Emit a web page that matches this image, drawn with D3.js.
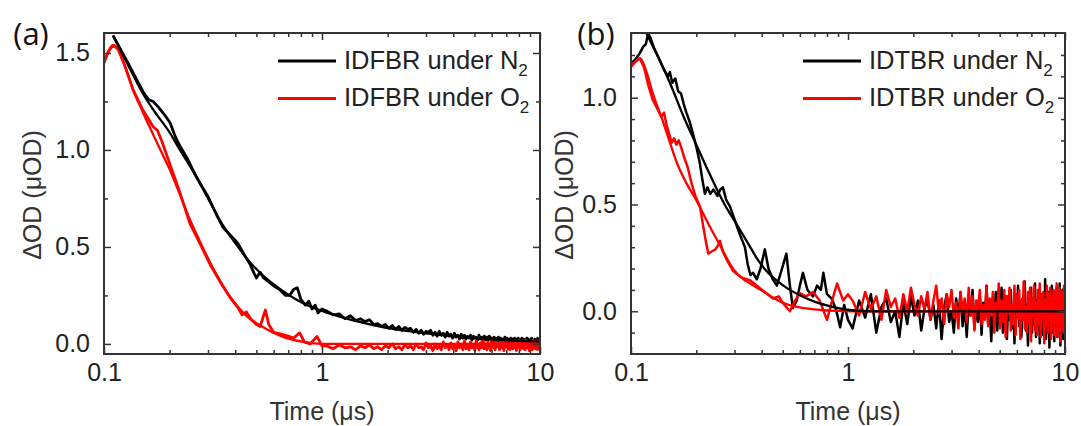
<!DOCTYPE html>
<html>
<head>
<meta charset="utf-8">
<script src="https://cdn.jsdelivr.net/npm/d3@7"></script>
<style>
  body { margin: 0; background: #fff; }
  text { font-family: "Liberation Sans", Arial, sans-serif; }
</style>
</head>
<body>
<svg id="chart" width="1081" height="426"></svg>
<script>
// ---- data (time in µs, ΔOD in µOD) ----
const xTicks = [0.1, 1, 10];
const xMinorTicks = [0.2, 0.3, 0.4, 0.5, 0.6, 0.7, 0.8, 0.9, 2, 3, 4, 5, 6, 7, 8, 9];
const yTicksA = [0, 0.5, 1.0, 1.5];
const yMinorA = [0.25, 0.75, 1.25];
const yTicksB = [0, 0.5, 1.0];
const yMinorB = [-0.1, 0.1, 0.2, 0.3, 0.4, 0.6, 0.7, 0.8, 0.9, 1.1, 1.2];

const legendA = ["IDFBR under ", "IDFBR under "];
const legendB = ["IDTBR under ", "IDTBR under "];
const legendSub = [["N", "2"], ["O", "2"]];

// sampling grid of the long-time tails
const tailStart = 1.05, tailStep = 0.075;

// panel (a) IDFBR
const fbN2Early = [[0.11,1.59],[0.13,1.44],[0.151,1.3],[0.16,1.26],[0.168,1.25],[0.178,1.22],[0.19,1.18],[0.201,1.14],
  [0.212,1.07],[0.223,1.02],[0.24,0.96],[0.26,0.88],[0.275,0.83],[0.3,0.76],[0.33,0.66],[0.352,0.6],[0.38,0.56],
  [0.41,0.52],[0.44,0.46],[0.468,0.41],[0.49,0.36],[0.5,0.34],[0.52,0.37],[0.54,0.34],[0.57,0.32],[0.6,0.3],
  [0.64,0.28],[0.68,0.25],[0.71,0.25],[0.74,0.28],[0.77,0.29],[0.8,0.23],[0.84,0.2],[0.87,0.22],[0.9,0.18],
  [0.93,0.2],[0.96,0.16],[1.0,0.18]];
const fbN2Tail = [0.17,0.15,0.155,0.13,0.145,0.12,0.13,0.115,0.125,0.10,
  0.105,0.09,0.1,0.08,0.095,0.075,0.09,0.07,0.085,0.075,
  0.08,0.06,0.075,0.055,0.07,0.05,0.065,0.06,0.07,0.045,
  0.06,0.04,0.065,0.045,0.055,0.035,0.06,0.04,0.05,0.03,
  0.055,0.035,0.045,0.025,0.05,0.03,0.045,0.025,0.04,0.03,
  0.045,0.02,0.04,0.03,0.035,0.02,0.045,0.025,0.035,0.015,
  0.04,0.02,0.035,0.015,0.04,0.025,0.03,0.015,0.035,0.02,
  0.03,0.01,0.035,0.015,0.03,0.02,0.025,0.01,0.035,0.015,
  0.03,0.01,0.025,0.005,0.03,0.015,0.025,0.01,0.03,0.005,
  0.025,0.01,0.03,0.005,0.02,0.015,0.03,0.0,0.025,0.01,
  0.02,0.005,0.03,0.01,0.025,0.0,0.02,0.015,0.03,0.005,
  0.02,0.01,0.025,0.0,0.02,0.01,0.03,0.005,0.02,0.015,0.01];
const fbN2Fit = [[0.11,1.59],[0.13,1.43],[0.151,1.29],[0.17,1.2],[0.2,1.09],[0.223,1.0],[0.25,0.91],[0.275,0.83],
  [0.31,0.72],[0.352,0.61],[0.4,0.52],[0.468,0.42],[0.54,0.35],[0.62,0.295],[0.71,0.25],[0.82,0.21],[1.0,0.17],
  [1.25,0.135],[1.6,0.105],[2.05,0.08],[3,0.055],[4.15,0.038],[6,0.024],[8,0.016],[10,0.012]];

const fbO2Early = [[0.1,1.45],[0.105,1.51],[0.11,1.54],[0.116,1.52],[0.125,1.43],[0.136,1.31],[0.15,1.21],[0.16,1.16],
  [0.168,1.12],[0.176,1.1],[0.185,1.04],[0.2,0.93],[0.223,0.78],[0.248,0.62],[0.275,0.52],[0.31,0.4],[0.35,0.3],
  [0.378,0.24],[0.41,0.19],[0.43,0.15],[0.45,0.165],[0.47,0.13],[0.5,0.1],[0.52,0.09],[0.55,0.175],[0.57,0.1],
  [0.6,0.06],[0.65,0.05],[0.7,0.04],[0.74,0.03],[0.79,0.057],[0.83,0.01],[0.88,0.0],[0.95,0.038],[1.0,-0.01]];
const fbO2Tail = [-0.01,-0.025,-0.005,-0.02,-0.015,-0.03,-0.01,-0.02,-0.005,-0.025,
  -0.015,-0.03,-0.01,-0.02,0.0,-0.025,-0.015,-0.03,-0.005,-0.02,
  -0.01,-0.03,0.0,-0.02,-0.015,-0.03,0.005,-0.02,-0.01,-0.035,
  0.0,-0.025,-0.01,-0.03,0.01,-0.02,-0.005,-0.03,0.005,-0.025,
  -0.01,-0.035,0.01,-0.02,0.0,-0.03,0.015,-0.025,-0.005,-0.03,
  0.01,-0.02,0.0,-0.035,0.015,-0.015,-0.03,0.005,-0.02,0.02,
  -0.025,0.0,-0.03,0.01,-0.015,-0.035,0.015,-0.02,0.005,-0.03,
  0.02,-0.015,-0.005,-0.03,0.015,-0.02,0.01,-0.035,0.005,-0.015,
  0.02,-0.025,0.0,-0.03,0.015,-0.01,-0.025,0.02,-0.02,0.005,
  -0.035,0.01,-0.015,0.02,-0.03,0.0,-0.02,0.015,-0.025,0.005,
  -0.03,0.02,-0.01,-0.02,0.01,-0.035,0.015,-0.015,0.0,-0.03,
  0.02,-0.02,0.005,-0.025,0.015,-0.01,-0.03,0.01,-0.02,0.02,-0.01];
const fbO2Fit = [[0.1,1.45],[0.105,1.51],[0.11,1.54],[0.116,1.52],[0.125,1.43],[0.136,1.31],[0.15,1.2],[0.168,1.08],
  [0.185,0.98],[0.2,0.9],[0.223,0.77],[0.248,0.64],[0.275,0.53],[0.32,0.38],[0.378,0.245],[0.44,0.155],
  [0.54,0.085],[0.65,0.04],[0.82,0.01],[1.0,0.0],[10,0.0]];

// panel (b) IDTBR
const tbN2Early = [[0.1,1.16],[0.105,1.18],[0.11,1.21],[0.114,1.24],[0.117,1.25],[0.12,1.3],[0.123,1.28],[0.128,1.23],
  [0.135,1.18],[0.142,1.13],[0.148,1.1],[0.151,1.12],[0.155,1.07],[0.16,1.09],[0.165,1.03],[0.17,1.02],[0.175,0.97],
  [0.18,0.93],[0.186,0.89],[0.192,0.84],[0.2,0.77],[0.207,0.7],[0.213,0.62],[0.219,0.55],[0.225,0.58],[0.232,0.55],
  [0.24,0.57],[0.25,0.54],[0.258,0.57],[0.265,0.58],[0.275,0.52],[0.286,0.49],[0.3,0.43],[0.312,0.38],[0.323,0.34],
  [0.335,0.3],[0.345,0.22],[0.355,0.17],[0.365,0.18],[0.38,0.15],[0.395,0.2],[0.414,0.29],[0.43,0.2],[0.45,0.15],
  [0.47,0.12],[0.49,0.18],[0.52,0.27],[0.54,0.12],[0.557,0.015],[0.58,0.05],[0.6,0.12],[0.62,0.18],[0.65,0.1],
  [0.69,0.07],[0.72,0.12],[0.75,0.1],[0.77,0.18],[0.8,0.08],[0.84,0.06],[0.88,0.01],[0.92,-0.075],[0.96,0.03],[1.0,-0.04]];
const tbN2Tail = [-0.08,0.05,-0.03,0.08,-0.1,0.02,0.06,-0.05,0.0,-0.12,
  0.04,-0.06,0.07,-0.02,0.05,-0.09,0.01,0.06,-0.04,0.03,
  -0.08,0.05,-0.13,0.02,0.08,-0.05,0.0,-0.1,0.06,-0.03,
  0.09,-0.07,0.03,-0.12,0.05,-0.02,0.1,-0.08,0.02,-0.05,
  0.07,-0.11,0.04,-0.03,0.12,-0.06,0.01,-0.14,0.06,-0.02,
  0.09,-0.09,0.03,-0.05,0.11,-0.1,0.0,0.07,-0.13,0.05,
  -0.04,0.1,-0.08,0.02,-0.15,0.08,-0.03,0.12,-0.07,0.04,
  -0.12,0.06,-0.01,0.14,-0.09,0.03,-0.16,0.07,-0.04,0.11,
  -0.1,0.02,-0.06,0.13,-0.12,0.05,-0.02,0.1,-0.15,0.04,
  0.08,-0.11,0.01,-0.07,0.15,-0.13,0.06,-0.03,0.09,-0.17,
  0.05,-0.05,0.12,-0.1,0.03,-0.14,0.08,-0.02,0.11,-0.12,
  0.06,-0.08,0.13,-0.16,0.04,-0.04,0.1,-0.13,0.07,-0.06,0.12];
const tbN2Fit = [[0.112,1.35],[0.122,1.27],[0.135,1.18],[0.151,1.07],[0.175,0.91],[0.2,0.78],[0.231,0.64],[0.27,0.5],
  [0.31,0.4],[0.35,0.31],[0.379,0.25],[0.42,0.19],[0.469,0.145],[0.53,0.105],[0.6,0.075],[0.7,0.045],[0.857,0.02],
  [1.02,0.006],[1.3,0.0],[10,0.0]];

const tbO2Early = [[0.1,1.145],[0.105,1.17],[0.11,1.185],[0.115,1.14],[0.12,1.06],[0.126,0.99],[0.132,0.95],[0.138,0.91],
  [0.142,0.93],[0.146,0.87],[0.15,0.83],[0.154,0.79],[0.158,0.81],[0.162,0.78],[0.166,0.8],[0.17,0.77],[0.176,0.72],
  [0.183,0.67],[0.19,0.6],[0.198,0.54],[0.208,0.49],[0.215,0.4],[0.222,0.32],[0.227,0.27],[0.235,0.28],[0.245,0.29],
  [0.252,0.31],[0.257,0.33],[0.265,0.28],[0.28,0.23],[0.295,0.19],[0.32,0.16],[0.354,0.145],[0.38,0.12],[0.42,0.085],
  [0.45,0.06],[0.48,0.07],[0.5,0.04],[0.54,0.0],[0.57,0.05],[0.6,0.085],[0.64,0.07],[0.69,0.09],[0.74,0.05],
  [0.8,-0.04],[0.85,0.06],[0.89,0.13],[0.95,0.05],[1.0,0.08]];
const tbO2Tail = [0.05,-0.02,0.09,0.01,0.07,-0.04,0.1,0.02,0.06,-0.03,
  0.08,0.0,0.11,0.03,-0.02,0.07,0.01,0.09,-0.04,0.05,
  0.12,-0.01,0.06,-0.06,0.08,0.02,0.1,-0.03,0.04,-0.08,
  0.09,0.0,0.06,-0.05,0.11,-0.02,0.07,-0.09,0.05,0.01,
  0.1,-0.06,0.03,-0.04,0.12,-0.07,0.06,-0.02,0.09,-0.1,
  0.04,0.0,0.13,-0.08,0.05,-0.05,0.1,-0.12,0.07,-0.01,
  0.11,-0.09,0.03,-0.06,0.12,-0.11,0.08,-0.03,0.1,-0.13,
  0.05,-0.04,0.14,-0.08,0.02,-0.1,0.09,-0.05,0.11,-0.14,
  0.06,-0.02,0.12,-0.09,0.04,-0.11,0.1,-0.06,0.13,-0.12,
  0.07,-0.03,0.09,-0.15,0.05,-0.07,0.12,-0.1,0.08,-0.04,
  0.11,-0.13,0.06,-0.08,0.1,-0.11,0.09,-0.05,0.13,-0.12,
  0.07,-0.06,0.11,-0.14,0.08,-0.03,0.1,-0.1,0.12,-0.07,0.09];
const tbO2Fit = [[0.1,1.145],[0.105,1.17],[0.11,1.185],[0.118,1.12],[0.126,1.02],[0.138,0.91],[0.15,0.8],[0.162,0.7],
  [0.18,0.6],[0.2,0.52],[0.227,0.41],[0.257,0.31],[0.295,0.2],[0.33,0.15],[0.354,0.13],[0.42,0.084],[0.5,0.04],
  [0.6,0.018],[0.75,0.006],[0.9,0.002],[1.1,0.0],[10,0.0]];

// ---- drawing ----
const svg = d3.select("#chart");
const withTail = (early, tail) => early.concat(tail.map((v, i) => [tailStart + i * tailStep, v]));

const panels = [
  { tag: "(a)", tagX: 31, left: 104, right: 540, top: 33, bottom: 354, yDomain: [-0.052, 1.603],
    yTicks: yTicksA, yMinor: yMinorA, titleX: 32, legend: legendA, dataWidth: 2.8,
    n2: withTail(fbN2Early, fbN2Tail), o2: withTail(fbO2Early, fbO2Tail), n2Fit: fbN2Fit, o2Fit: fbO2Fit },
  { tag: "(b)", tagX: 596, left: 631, right: 1065, top: 33, bottom: 354, yDomain: [-0.2, 1.303],
    yTicks: yTicksB, yMinor: yMinorB, titleX: 564, legend: legendB, dataWidth: 2.5,
    n2: withTail(tbN2Early, tbN2Tail), o2: withTail(tbO2Early, tbO2Tail), n2Fit: tbN2Fit, o2Fit: tbO2Fit }
];

panels.forEach((p, k) => {
  const x = d3.scaleLog().domain([0.1, 10]).range([p.left, p.right]);
  const y = d3.scaleLinear().domain(p.yDomain).range([p.bottom, p.top]);
  const g = svg.append("g");

  const clipId = "clip" + k;
  svg.append("clipPath").attr("id", clipId).append("rect")
    .attr("x", p.left).attr("y", p.top)
    .attr("width", p.right - p.left).attr("height", p.bottom - p.top);

  const raw = d3.line().x(d => x(d[0])).y(d => y(d[1]));
  const smooth = d3.line().x(d => x(d[0])).y(d => y(d[1])).curve(d3.curveMonotoneX);
  const plot = g.append("g").attr("clip-path", `url(#${clipId})`);
  plot.append("path").datum(p.n2).attr("d", raw)
    .attr("fill", "none").attr("stroke", "#000").attr("stroke-width", p.dataWidth).attr("stroke-linejoin", "round");
  plot.append("path").datum(p.o2).attr("d", raw)
    .attr("fill", "none").attr("stroke", "#ff0000").attr("stroke-width", p.dataWidth).attr("stroke-linejoin", "round");
  plot.append("path").datum(p.o2Fit).attr("d", smooth)
    .attr("fill", "none").attr("stroke", "#ff0000").attr("stroke-width", 2.3);
  plot.append("path").datum(p.n2Fit).attr("d", smooth)
    .attr("fill", "none").attr("stroke", "#000").attr("stroke-width", 2.3);

  // axes: ticks point inward, mirrored on top and right
  const styleAxis = a => {
    a.select(".domain").remove();
    a.selectAll("line").attr("stroke", "#333").attr("stroke-width", 1.5);
    a.selectAll("text").attr("font-size", 25).attr("fill", "#222");
  };
  g.append("g").attr("transform", `translate(0,${p.bottom})`)
    .call(d3.axisBottom(x).tickValues(xTicks).tickSizeInner(-7).tickSizeOuter(0).tickPadding(9)
      .tickFormat(d3.format("~g"))).call(styleAxis);
  g.append("g").attr("transform", `translate(0,${p.bottom})`)
    .call(d3.axisBottom(x).tickValues(xMinorTicks).tickSizeInner(-4).tickSizeOuter(0).tickFormat("")).call(styleAxis);
  g.append("g").attr("transform", `translate(0,${p.top})`)
    .call(d3.axisTop(x).tickValues(xTicks).tickSizeInner(-7).tickSizeOuter(0).tickFormat("")).call(styleAxis);
  g.append("g").attr("transform", `translate(0,${p.top})`)
    .call(d3.axisTop(x).tickValues(xMinorTicks).tickSizeInner(-4).tickSizeOuter(0).tickFormat("")).call(styleAxis);
  g.append("g").attr("transform", `translate(${p.left},0)`)
    .call(d3.axisLeft(y).tickValues(p.yTicks).tickSizeInner(-7).tickSizeOuter(0).tickPadding(14)
      .tickFormat(d3.format(".1f"))).call(styleAxis);
  g.append("g").attr("transform", `translate(${p.left},0)`)
    .call(d3.axisLeft(y).tickValues(p.yMinor).tickSizeInner(-4).tickSizeOuter(0).tickFormat("")).call(styleAxis);
  g.append("g").attr("transform", `translate(${p.right},0)`)
    .call(d3.axisRight(y).tickValues(p.yTicks).tickSizeInner(-7).tickSizeOuter(0).tickFormat("")).call(styleAxis);
  g.append("g").attr("transform", `translate(${p.right},0)`)
    .call(d3.axisRight(y).tickValues(p.yMinor).tickSizeInner(-4).tickSizeOuter(0).tickFormat("")).call(styleAxis);

  g.append("rect").attr("x", p.left).attr("y", p.top)
    .attr("width", p.right - p.left).attr("height", p.bottom - p.top)
    .attr("fill", "none").attr("stroke", "#333").attr("stroke-width", 2);

  // titles
  g.append("text").attr("x", (p.left + p.right) / 2).attr("y", 420)
    .attr("text-anchor", "middle").attr("font-size", 25).attr("fill", "#333")
    .text("Time (μs)");
  g.append("text").attr("transform", `translate(${p.titleX + 9},195) rotate(-90)`)
    .attr("text-anchor", "middle").attr("font-size", 25).attr("fill", "#333")
    .text("ΔOD (μOD)");
  g.append("text").attr("x", p.tagX).attr("y", 45).attr("text-anchor", "middle")
    .attr("font-size", 31).attr("fill", "#111").style("font-family", "'Open Sans', sans-serif")
    .text(p.tag);

  // legend
  const colors = ["#000", "#ff0000"];
  p.legend.forEach((name, i) => {
    const ly = 61 + i * 37.5;
    g.append("line").attr("x1", p.right - 262).attr("x2", p.right - 204)
      .attr("y1", ly).attr("y2", ly).attr("stroke", colors[i]).attr("stroke-width", 3);
    const t = g.append("text").attr("x", p.right - 196).attr("y", ly + 7.5)
      .attr("font-size", 25.5).attr("fill", "#222");
    t.append("tspan").text(name + legendSub[i][0]);
    t.append("tspan").attr("font-size", 17).attr("dy", 7).text(legendSub[i][1]);
  });
});
</script>
</body>
</html>
